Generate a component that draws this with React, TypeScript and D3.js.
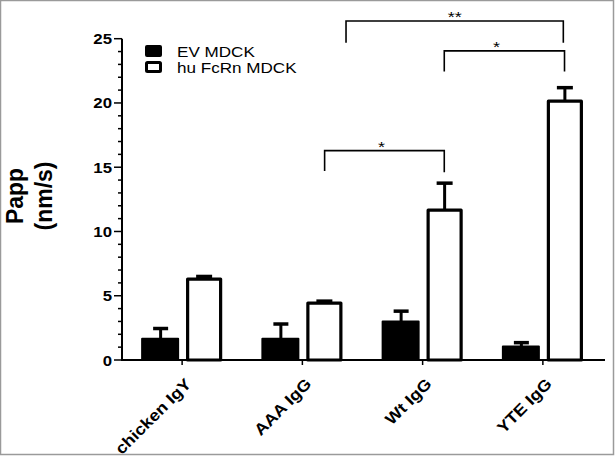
import React from "react";
import * as d3 from "d3";

const categories = ["chicken IgY", "AAA IgG", "Wt IgG", "YTE IgG"];
const seriesNames = ["EV MDCK", "hu FcRn MDCK"];
const evMeans = [1.65, 1.65, 3.0, 1.05];
const evSem = [0.8, 1.15, 0.8, 0.3];
const fcrnMeans = [6.3, 4.43, 11.66, 20.14];
const fcrnSem = [0.2, 0.15, 2.1, 1.05];
const yTicks = [0, 5, 10, 15, 20, 25];
// brackets: positions in category-index units (category center = index)
const bracketFrom = [1.185, 2.18, 1.363];
const bracketTo = [2.18, 3.18, 3.17];
const bracketTop = [16.29, 24.05, 26.38];
const bracketLeftLeg = [14.7, 22.44, 24.69];
const bracketRightLeg = [14.6, 22.44, 24.69];
const bracketLabels = ["*", "*", "**"];

const W = 615;
const H = 457;

export default function App() {
  const x = d3.scaleBand<string>().domain(categories).range([122, 603]).padding(0);
  const y = d3.scaleLinear().domain([0, 25]).range([360, 38.7]);
  const step = x.step();
  const cx = (c: string) => (x(c) as number) + x.bandwidth() / 2;
  const ux = d3.scaleLinear().domain([0, 1]).range([cx(categories[0]), cx(categories[0]) + step]);
  const minor = d3.range(0, 26, 1);
  const font = "Liberation Sans, Arial, Helvetica, sans-serif";

  return (
    <svg width={W} height={H} style={{ position: "absolute", left: 0, top: 0, background: "#fff" }} fontFamily={font}>
      <rect x={0.5} y={0.5} width={W - 2} height={H - 3} fill="#fff" stroke="#9a9a9a" strokeWidth={1.5} />
      {/* bars */}
      {categories.map((c, i) => {
        const c0 = cx(c);
        return (
          <g key={c}>
            <line x1={c0 - 21.5} x2={c0 - 21.5} y1={y(evMeans[i])} y2={y(evMeans[i] + evSem[i])} stroke="#000" strokeWidth={3} />
            <line x1={c0 - 29} x2={c0 - 14} y1={y(evMeans[i] + evSem[i])} y2={y(evMeans[i] + evSem[i])} stroke="#000" strokeWidth={3.5} />
            <rect x={c0 - 40} y={y(evMeans[i])} width={36} height={y(0) - y(evMeans[i])} fill="#000" stroke="#000" strokeWidth={2} strokeLinejoin="round" />
            <line x1={c0 + 22} x2={c0 + 22} y1={y(fcrnMeans[i])} y2={y(fcrnMeans[i] + fcrnSem[i])} stroke="#000" strokeWidth={3} />
            <line x1={c0 + 14} x2={c0 + 30} y1={y(fcrnMeans[i] + fcrnSem[i])} y2={y(fcrnMeans[i] + fcrnSem[i])} stroke="#000" strokeWidth={3.5} />
            <rect x={c0 + 5.5} y={y(fcrnMeans[i])} width={33} height={y(0) - y(fcrnMeans[i])} fill="#fff" stroke="#000" strokeWidth={3.2} strokeLinejoin="round" />
          </g>
        );
      })}
      {/* y axis */}
      <line x1={122} x2={122} y1={y(0) + 1} y2={y(25)} stroke="#000" strokeWidth={2} />
      {minor.map((v) => (
        <line key={"m" + v} x1={v % 5 === 0 ? 114 : 118} x2={122} y1={y(v)} y2={y(v)} stroke="#000" strokeWidth={1.5} />
      ))}
      {yTicks.map((v) => (
        <text key={"t" + v} transform={`translate(112,${y(v) + 5.5}) scale(1.12,1)`} textAnchor="end" fontSize={15} fontWeight="bold">
          {v}
        </text>
      ))}
      {/* x axis */}
      <line x1={121} x2={605} y1={y(0)} y2={y(0)} stroke="#000" strokeWidth={2} />
      {categories.map((c) => (
        <line key={"xt" + c} x1={cx(c)} x2={cx(c)} y1={y(0)} y2={y(0) + 5} stroke="#000" strokeWidth={1.5} />
      ))}
      {categories.map((c) => (
        <text key={"xl" + c} transform={`translate(${cx(c) + 10},${385}) rotate(-45) scale(1.12,1)`} textAnchor="end" fontSize={16} fontWeight="bold">
          {c}
        </text>
      ))}
      {/* y title */}
      <text transform={`translate(23,196) rotate(-90)`} textAnchor="middle" fontSize={23} fontWeight="bold">Papp</text>
      <text transform={`translate(52,196) rotate(-90)`} textAnchor="middle" fontSize={23} fontWeight="bold">(nm/s)</text>
      {/* legend */}
      <rect x={145} y={45} width={17} height={12} rx={2} fill="#000" />
      <rect x={146.5} y={62.5} width={14} height={9} rx={1} fill="#fff" stroke="#000" strokeWidth={3} />
      <text transform={`translate(177,57) scale(1.22,1)`} fontSize={14}>{seriesNames[0]}</text>
      <text transform={`translate(177,73) scale(1.22,1)`} fontSize={14}>{seriesNames[1]}</text>
      {/* significance brackets */}
      {bracketLabels.map((lab, i) => {
        const x1 = ux(bracketFrom[i]);
        const x2 = ux(bracketTo[i]);
        const yt = y(bracketTop[i]);
        return (
          <g key={"b" + i}>
            <path d={`M${x1},${y(bracketLeftLeg[i])}V${yt}H${x2}V${y(bracketRightLeg[i])}`} fill="none" stroke="#000" strokeWidth={1.6} />
            <text transform={`translate(${(x1 + x2) / 2 - (i === 2 ? 0 : i === 1 ? 8 : 3)},${yt + 1}) scale(1.2,1)`} textAnchor="middle" fontSize={15}>{lab}</text>
          </g>
        );
      })}
    </svg>
  );
}
